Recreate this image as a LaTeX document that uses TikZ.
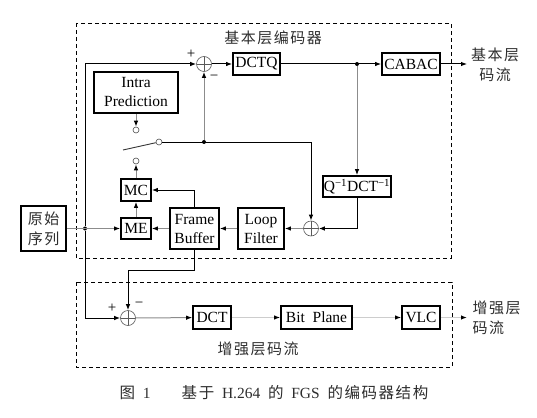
\documentclass[tikz,border=0pt]{standalone}
\usepackage{fontspec}
\setmainfont{Liberation Serif}
\newfontfamily\cjk[LetterSpace=10]{Noto Sans CJK SC}
\usetikzlibrary{positioning, arrows.meta, calc}
\definecolor{grisfil}{RGB}{140,140,140}
\definecolor{grisclair}{RGB}{205,205,205}
\definecolor{encre}{RGB}{45,45,45}

\begin{document}
\begin{tikzpicture}[x=1pt, y=-1pt,
    >={Latex[length=6pt, width=4.5pt, color=black]},
    bloc/.style={rectangle, draw=black, line width=1.7pt, fill=white, align=center,
                 inner sep=1pt, font=\fontsize{15.5}{19}\selectfont},
    somme/.style={circle, draw=black!65, line width=0.6pt, minimum size=15pt, inner sep=0pt,
                  path picture={\draw[black!65, line width=0.6pt]
                    (path picture bounding box.north) -- (path picture bounding box.south)
                    (path picture bounding box.west) -- (path picture bounding box.east);}},
    borne/.style={circle, draw=black!70, line width=0.6pt, fill=white, minimum size=6pt, inner sep=0pt},
    point/.style={circle, fill=black, minimum size=4pt, inner sep=0pt},
    signe/.style={font=\fontsize{15}{15}\selectfont, inner sep=0pt},
    fleche/.style={->, line width=1pt, draw=black},
    flechegris/.style={->, line width=1pt, draw=grisfil},
    flecheclair/.style={->, line width=1.1pt, draw=grisclair},
    zone/.style={dash pattern=on 4pt off 3pt, line width=0.7pt},
    titre/.style={font=\cjk\fontsize{15}{20}\selectfont, text=encre}]
    \useasboundingbox (0,0) rectangle (537,417);
    % zones en pointilles
    \draw[zone] (76,23) rectangle (451,258);
    \draw[zone] (76,282) rectangle (452,367);
    \node[titre] (tbase) at (273,38) {基本层编码器};
    \node[titre] (tenh) at (258,349) {增强层码流};

    % couche de base
    \node[somme] (add1) at (204,64) {};
    \node[signe] (plus1) at (191,54) {+};
    \node[signe] (moins1) at (214,78) {−};
    \node[bloc, minimum width=47pt, minimum height=22pt] (dctq) at (256.5,64) {DCTQ};
    \node[bloc, minimum width=58pt, minimum height=22pt] (cabac) at (411,64) {CABAC};
    \node[titre, align=center] (sbase) at (495,65) {基本层\\码流};
    \coordinate (sortie1) at (467,64);
    \node[point] (j2) at (357,64) {};
    \node[bloc, minimum width=84pt, minimum height=41pt] (intra) at (136,92.5) {Intra\\Prediction};
    \node[borne] (c1) at (136,130) {};
    \node[borne] (pivot) at (159,142) {};
    \coordinate (lame) at (123,150);
    \node[point] (j3) at (204,142) {};
    \node[borne] (c2) at (136,161) {};
    \node[bloc, minimum width=65pt, minimum height=21pt] (qdct) at (357,186.5)
        {Q\textsuperscript{−1}DCT\textsuperscript{−1}};
    \node[bloc, minimum width=30pt, minimum height=22pt] (mc) at (136,190) {MC};
    \node[bloc, minimum width=30pt, minimum height=21pt] (me) at (136,228.5) {ME};
    \node[bloc, minimum width=49pt, minimum height=41pt] (fb) at (194.5,228.5) {Frame\\Buffer};
    \node[bloc, minimum width=46pt, minimum height=41pt] (lf) at (261,228.5) {Loop\\Filter};
    \node[somme] (add2) at (311,228.5) {};
    \node[bloc, minimum width=45pt, minimum height=45pt, font=\cjk\fontsize{15}{20}\selectfont,
          text=encre] (orig) at (43.5,228.5) {原始\\序列};
    \node[point] (j1) at (85,228.5) {};

    % couche d'amelioration
    \node[somme] (add3) at (128,318) {};
    \node[signe] (plus3) at (112,308) {+};
    \node[signe] (moins3) at (139,305) {−};
    \node[bloc, minimum width=38pt, minimum height=23pt] (dct) at (212,317.5) {DCT};
    \node[bloc, minimum width=71pt, minimum height=23pt] (bp) at (316.5,317.5) {Bit\enspace Plane};
    \node[bloc, minimum width=38pt, minimum height=23pt] (vlc) at (421,317.5) {VLC};
    \coordinate (sortie2) at (467,317.5);
    \node[titre, align=left, anchor=west] (senh) at (469,317.5) {增强层\\码流};

    % liaisons
    \draw[fleche] (j1) |- (add1);
    \draw[fleche] (j1) |- (add3);
    \draw[flechegris] (orig) -- (me);
    \draw[fleche] (add1) -- (dctq);
    \draw[fleche] (dctq) -- (cabac);
    \draw[fleche] (cabac) -- (sortie1);
    \draw[flechegris] (j2) -- (qdct);
    \draw[fleche] (qdct) |- (add2);
    \draw[flechegris] (add2) -- (lf);
    \draw[flechegris] (lf) -- (fb);
    \draw[flechegris] (fb) -- (me);
    \draw[fleche] (fb.north) |- (mc);
    \draw[flechegris] (me) -- (mc);
    \draw[flechegris] (mc) -- (c2);
    \draw[flechegris] (intra) -- (c1);
    \draw[line width=0.9pt, draw=black!80] (lame) -- (pivot);
    \draw[fleche] (pivot) -| (add2);
    \draw[flechegris] (j3) -- (add1);
    \draw[fleche] (fb.south) -- ++(0,21) -| (add3);
    \draw[flechegris] (add3) -- (dct);
    \draw[flecheclair] (dct) -- (bp);
    \draw[flecheclair] (bp) -- (vlc);
    \draw[flecheclair] (vlc) -- (sortie2);

    \node[font=\fontsize{15.5}{18}\selectfont, text=encre] (legende) at (274,393)
        {{\cjk 图}\enspace 1\qquad{\cjk 基于}\enspace H.264\enspace{\cjk 的}\enspace FGS\enspace{\cjk 的编码器结构}};
  \end{tikzpicture}
\end{document}
